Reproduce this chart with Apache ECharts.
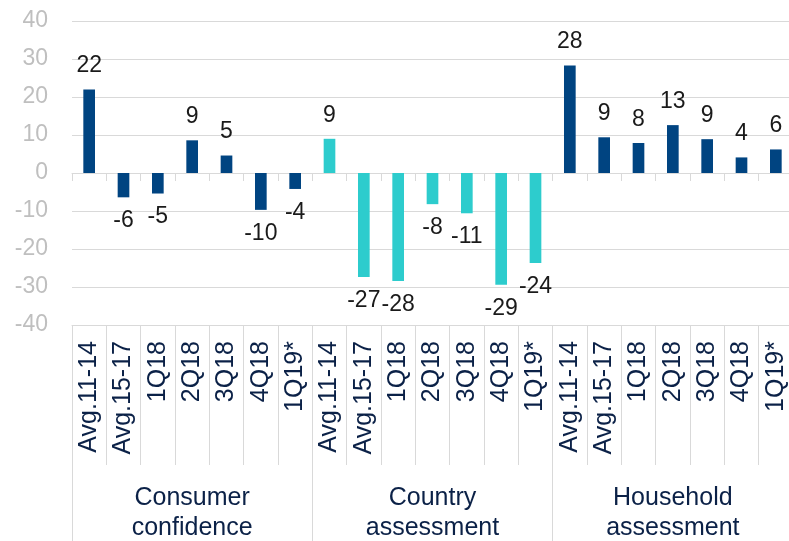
<!DOCTYPE html>
<html>
<head>
<meta charset="utf-8">
<script src="https://cdn.jsdelivr.net/npm/echarts@6/dist/echarts.min.js"></script>
<style>
  html, body { margin: 0; padding: 0; background: #fff; }
  #chart { width: 789px; height: 541px; }
</style>
</head>
<body>
<div id="chart"></div>
<script>
// periods repeat in every group
const periods = ['Avg.11-14', 'Avg.15-17', '1Q18', '2Q18', '3Q18', '4Q18', '1Q19*'];
const groups = ['Consumer\nconfidence', 'Country\nassessment', 'Household\nassessment'];
const consumer = [22, -6.4, -5.4, 8.6, 4.6, -9.7, -4.2];
const country = [9, -27.4, -28.4, -8.2, -10.6, -29.4, -23.7];
const household = [28.3, 9.4, 7.9, 12.6, 8.9, 4.1, 6.2];
const yMin = -40, yMax = 40, yStep = 10;

const groupValues = [consumer, country, household];
const groupColors = ['#004481', '#2DCCCD', '#004481'];

const cats = [];
const barData = [];
groupValues.forEach((vals, g) => {
  vals.forEach((v, i) => {
    cats.push(periods[i]);
    barData.push({
      value: v,
      itemStyle: { color: groupColors[g] },
      label: { position: v < 0 ? 'bottom' : 'top' }
    });
  });
});

const lineGrey = '#D9D9D9';
const textFont = 'Liberation Sans, Arial, sans-serif';

const chart = echarts.init(document.getElementById('chart'));
chart.setOption({
  animation: false,
  grid: { left: 72, right: -4, top: 21, bottom: 216, containLabel: false, outerBoundsMode: 'none' },
  xAxis: [
    {
      // axis drawn at zero with short ticks
      type: 'category',
      data: cats,
      axisLine: { show: true, onZero: true, lineStyle: { color: lineGrey, width: 1 } },
      axisTick: { show: true, interval: 0, length: 8, lineStyle: { color: lineGrey } },
      axisLabel: { show: false }
    },
    {
      type: 'category',
      data: cats,
      position: 'bottom',
      offset: 0,
      axisLine: { show: true, onZero: false, lineStyle: { color: lineGrey, width: 1 } },
      axisTick: { show: true, interval: 0, length: 140, lineStyle: { color: lineGrey } },
      axisLabel: {
        interval: 0, rotate: 90, margin: 16,
        fontSize: 25, color: '#0B2147', fontFamily: textFont
      }
    },
    {
      type: 'category',
      data: groups,
      position: 'bottom',
      offset: 0,
      axisLine: { show: false, onZero: false },
      axisTick: { show: true, interval: 0, length: 216, lineStyle: { color: lineGrey } },
      axisLabel: {
        interval: 0, margin: 158, lineHeight: 30,
        fontSize: 25, color: '#0B2147', fontFamily: textFont
      }
    }
  ],
  yAxis: {
    type: 'value',
    min: yMin, max: yMax, interval: yStep,
    axisLine: { show: false },
    axisTick: { show: false },
    splitLine: { lineStyle: { color: lineGrey, width: 1 } },
    axisLabel: { margin: 24, fontSize: 23, color: '#BFBFBF', fontFamily: textFont }
  },
  series: [{
    type: 'bar',
    xAxisIndex: 0,
    barWidth: '34%',
    data: barData,
    label: {
      show: true,
      distance: 12,
      fontSize: 23,
      color: '#1A1A1A',
      fontFamily: textFont,
      formatter: p => Math.round(p.value)
    }
  }]
});
</script>
</body>
</html>
